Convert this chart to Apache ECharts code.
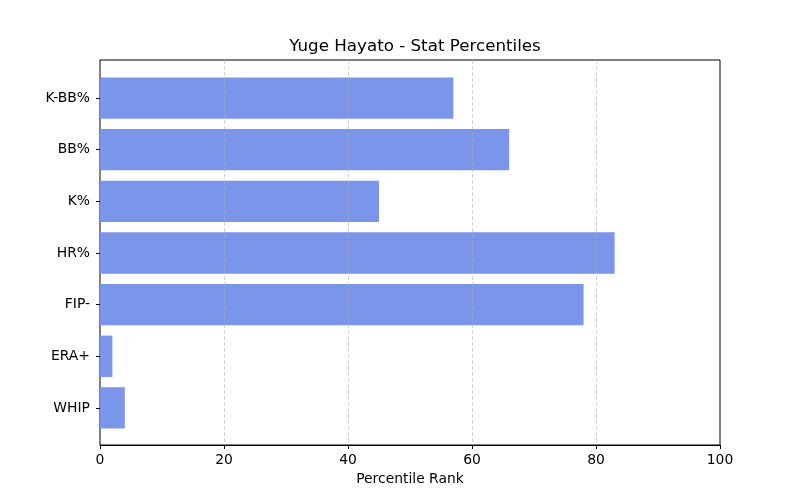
<!DOCTYPE html>
<html>
<head>
<meta charset="utf-8">
<script src="https://cdn.jsdelivr.net/npm/echarts@6/dist/echarts.min.js"></script>
<style>
  html, body { margin: 0; padding: 0; background: #fff; }
  #chart { width: 800px; height: 500px; }
</style>
</head>
<body>
<div id="chart"></div>
<script>
// 数据
var categories = ['WHIP', 'ERA+', 'FIP-', 'HR%', 'K%', 'BB%', 'K-BB%'];
var percentiles = [4, 2, 78, 83, 45, 66, 57];
var xTicks = [0, 20, 40, 60, 80, 100];

var font = 'DejaVu Sans';
var chart = echarts.init(document.getElementById('chart'));

var option = {
    backgroundColor: '#fff',
    animation: false,
    title: {
        text: 'Yuge Hayato - Stat Percentiles',
        left: 410,
        top: 33,
        textAlign: 'center',
        textStyle: { fontFamily: font, fontSize: 16.7, fontWeight: 'normal', color: '#000' }
    },
    // 外框 + x 轴
    grid: [
        { left: 100, right: 80, top: 60, bottom: 55, show: true, borderColor: '#000', borderWidth: 1, backgroundColor: 'transparent' },
        // 柱子所在区域（matplotlib 那样上下留边）
        { left: 100, right: 80, top: 72.25, bottom: 66.25 }
    ],
    xAxis: [{
        gridIndex: 0,
        type: 'value',
        min: xTicks[0],
        max: xTicks[xTicks.length - 1],
        interval: 20,
        z: 5,
        name: 'Percentile Rank',
        nameLocation: 'middle',
        nameGap: 27,
        nameTextStyle: { fontFamily: font, fontSize: 13.9, color: '#000' },
        axisLine: { show: true, lineStyle: { color: '#000', width: 1 } },
        axisTick: { show: true, length: 4, lineStyle: { color: '#000' } },
        axisLabel: { fontFamily: font, fontSize: 13.9, color: '#000', margin: 8 },
        splitLine: {
            show: true,
            showMinLine: false,
            showMaxLine: false,
            lineStyle: { color: 'rgba(176,176,176,0.7)', type: [4, 2], width: 0.8 }
        }
    }, {
        gridIndex: 1,
        type: 'value',
        min: 0,
        max: 100,
        show: false
    }],
    yAxis: [{
        gridIndex: 0,
        type: 'value',
        show: false
    }, {
        gridIndex: 1,
        type: 'category',
        data: categories,
        axisLine: { show: false },
        axisTick: { show: true, alignWithLabel: true, length: 4, lineStyle: { color: '#000' } },
        axisLabel: { fontFamily: font, fontSize: 13.9, color: '#000', margin: 10 },
        splitLine: { show: false }
    }],
    series: [{
        name: 'Percentile',
        type: 'bar',
        xAxisIndex: 1,
        yAxisIndex: 1,
        data: percentiles,
        barWidth: '80%',
        itemStyle: { color: '#7a95e9' }
    }]
};
chart.setOption(option);
</script>
</body>
</html>
